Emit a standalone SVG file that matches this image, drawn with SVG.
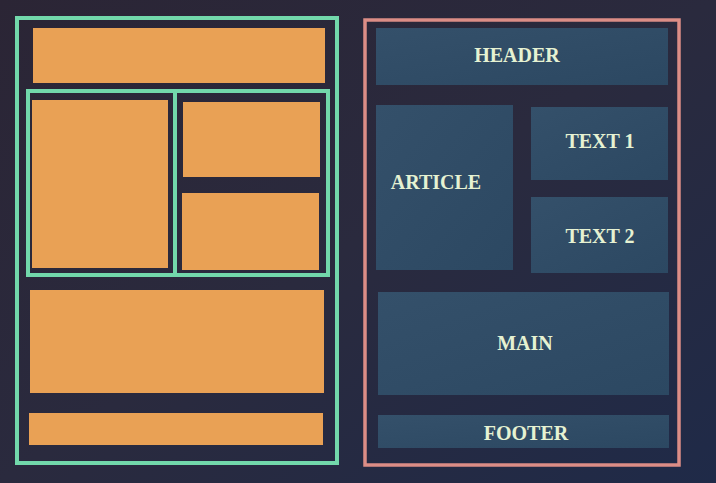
<svg xmlns="http://www.w3.org/2000/svg" width="716" height="483" viewBox="0 0 716 483">
  <defs>
    <linearGradient id="bg" x1="0" y1="0" x2="1" y2="1">
      <stop offset="0" stop-color="#2b2535"/>
      <stop offset="0.5" stop-color="#2a2a3e"/>
      <stop offset="1" stop-color="#1f2a48"/>
    </linearGradient>
    <linearGradient id="blue" x1="0" y1="0" x2="1" y2="1">
      <stop offset="0" stop-color="#34506a"/>
      <stop offset="1" stop-color="#2c4862"/>
    </linearGradient>
  </defs>
  <style>
    .frameL { fill: none; stroke: #72d8ab; stroke-width: 4; }
    .frameR { fill: none; stroke: #dc8d86; stroke-width: 3.5; }
    .orange { fill: #e9a155; }
    .box { fill: url(#blue); }
    .lbl { font-family: "Liberation Serif", "DejaVu Serif", serif; font-weight: bold; font-size: 20px; fill: #e6f2d2; text-anchor: middle; }
  </style>
  <rect width="716" height="483" fill="url(#bg)"/>

  <g id="left-layout">
    <rect class="frameL" x="17" y="18" width="320" height="445"/>
    <rect class="frameL" x="28" y="91" width="300" height="184"/>
    <line class="frameL" x1="175" y1="91" x2="175" y2="275"/>
    <rect id="l-header" class="orange" x="33" y="28" width="292" height="55"/>
    <rect id="l-article" class="orange" x="32" y="100" width="136" height="168"/>
    <rect id="l-text1" class="orange" x="183" y="102" width="137" height="75"/>
    <rect id="l-text2" class="orange" x="182" y="193" width="137" height="77"/>
    <rect id="l-main" class="orange" x="30" y="290" width="294" height="103"/>
    <rect id="l-footer" class="orange" x="29" y="413" width="294" height="32"/>
  </g>

  <g id="right-layout">
    <rect class="frameR" x="365" y="20" width="314" height="445"/>
    <g id="header">
      <rect class="box" x="376" y="28" width="292" height="57"/>
      <text class="lbl" x="517" y="62">HEADER</text>
    </g>
    <g id="article">
      <rect class="box" x="376" y="105" width="137" height="165"/>
      <text class="lbl" x="436" y="189">ARTICLE</text>
    </g>
    <g id="text1">
      <rect class="box" x="531" y="107" width="137" height="73"/>
      <text class="lbl" x="600" y="148">TEXT 1</text>
    </g>
    <g id="text2">
      <rect class="box" x="531" y="197" width="137" height="76"/>
      <text class="lbl" x="600" y="243">TEXT 2</text>
    </g>
    <g id="main">
      <rect class="box" x="378" y="292" width="291" height="103"/>
      <text class="lbl" x="525" y="350">MAIN</text>
    </g>
    <g id="footer">
      <rect class="box" x="378" y="415" width="291" height="33"/>
      <text class="lbl" x="526" y="440">FOOTER</text>
    </g>
  </g>

  <g id="connectors"/>
</svg>
